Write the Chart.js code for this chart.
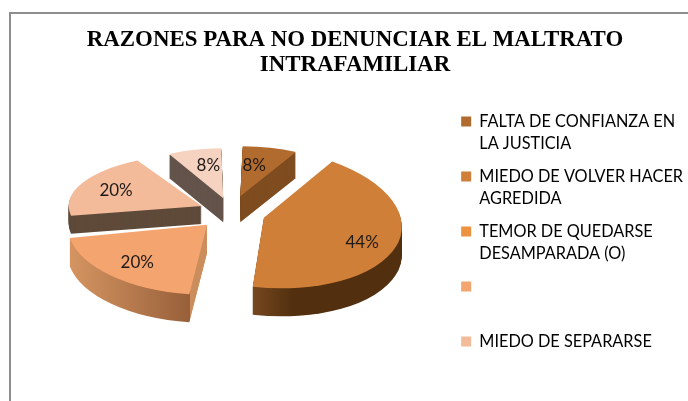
<!DOCTYPE html>
<html><head><meta charset="utf-8">
<style>html,body{margin:0;padding:0;background:#fff}canvas{display:block}</style>
<script src="https://cdn.jsdelivr.net/npm/chart.js@4"></script></head>
<body><canvas id="c" width="688" height="401" style="width:688px;height:401px"></canvas>
<script>
const titleLines = ['RAZONES PARA NO DENUNCIAR EL MALTRATO', 'INTRAFAMILIAR'];
const categories = [
  ['FALTA DE CONFIANZA EN', 'LA JUSTICIA'],
  ['MIEDO DE VOLVER HACER', 'AGREDIDA'],
  ['TEMOR DE QUEDARSE', 'DESAMPARADA (O)'],
  ['', ''],
  'MIEDO DE SEPARARSE',
  ''
];
const values = [8, 44, 0, 20, 20, 8];
const colors = ['#b26b2f', '#cf7f38', '#ed9240', '#f4a46e', '#f4bb9a', '#f6d2c0'];
const explode = [95, 127, 0, 93, 78, 76];

// per-slice projection look: ellipse radii and shear, wall height, nudge, label placement
const view = {
  0: {rx: 120, ry: 50, sx: 0, sy: 0, depth: 26, nx: 5, ny: 0, f: .6, lx: -4, ly: -2, wall: '#7f4c20'},
  1: {rx: 138, ry: 70, sx: 2, sy: 8, depth: 28, nx: -4, ny: 1, f: .72, lx: 4, ly: 11, wall: ['#7d4c22', '#52300f']},
  3: {rx: 140, ry: 70, sx: 0, sy: 0, depth: 28, nx: 5, ny: 3, f: .75, lx: 2, ly: -1, wall: ['#d69662', '#98603a']},
  4: {rx: 133, ry: 52, sx: 0, sy: 0, depth: 18, nx: 1, ny: 3, f: .72, lx: 1, ly: 0, wall: '#5f4a3a'},
  5: {rx: 116, ry: 50, sx: 0, sy: 0, depth: 24, nx: 1, ny: 0, f: .62, lx: 3, ly: -3, wall: '#63534a'}
};
const drawOrder = [5, 0, 4, 1, 3];
const centre = {x: 228, y: 208};

// Chart.js widens an exploded arc by offset/4 scaled with this factor
function fullRadius(arc) {
  const circ = arc.endAngle - arc.startAngle;
  return arc.outerRadius + (arc.options.offset || 0) / 4 * (1 - Math.sin(Math.min(Math.PI, circ)));
}
function place(ctx, arc, v) {
  const R = fullRadius(arc);
  ctx.translate(centre.x + v.nx, centre.y + v.ny);
  ctx.transform(v.rx / R, v.sy / R, v.sx / R, v.ry / R, 0, 0);
  ctx.translate(-arc.x, -arc.y);
}
function drawWith(arc, ctx, fill) {
  const o = arc.options;
  arc.options = Object.create(o, {backgroundColor: {value: fill}, borderWidth: {value: 0}});
  arc.draw(ctx);
  arc.options = o;
}
const pie3d = {
  id: 'pie3d',
  afterLayout(chart) {
    const l = chart.legend;
    l.top += 38; l.bottom += 38; l.left += 5; l.right += 5;
  },
  beforeDraw(chart) {
    const ctx = chart.ctx;
    ctx.save();
    ctx.strokeStyle = '#8e8e8e';
    ctx.lineWidth = 2;
    ctx.beginPath();
    ctx.moveTo(10, 401); ctx.lineTo(10, 13); ctx.lineTo(688, 13);
    ctx.stroke();
    ctx.restore();
  },
  beforeDatasetsDraw(chart) {
    const ctx = chart.ctx, meta = chart.getDatasetMeta(0);
    for (const i of drawOrder) {
      const arc = meta.data[i], v = view[i], R = fullRadius(arc);
      let wall = v.wall;
      if (Array.isArray(wall)) {
        const g = ctx.createLinearGradient(arc.x - (i === 1 ? .15 * R : R), 0, arc.x + (i === 1 ? R : -.125 * R), 0);
        if (i === 1) { g.addColorStop(0, wall[0]); g.addColorStop(.3, wall[1]); g.addColorStop(1, wall[1]); }
        else { g.addColorStop(0, wall[0]); g.addColorStop(.999, wall[1]); g.addColorStop(1, '#cc8d5c'); }
        wall = g;
      }
      for (let d = v.depth; d >= 1; d--) {
        ctx.save();
        ctx.translate(0, d);
        place(ctx, arc, v);
        drawWith(arc, ctx, wall);
        ctx.restore();
      }
      ctx.save();
      place(ctx, arc, v);
      drawWith(arc, ctx, colors[i]);
      ctx.restore();
    }
    return false;
  },
  afterDraw(chart) {
    const ctx = chart.ctx, meta = chart.getDatasetMeta(0);
    ctx.save();
    ctx.font = '17px Lato';
    ctx.fillStyle = '#1f1a17';
    ctx.textAlign = 'center';
    ctx.textBaseline = 'middle';
    meta.data.forEach((arc, i) => {
      if (!values[i]) return;
      const v = view[i], R = fullRadius(arc), mid = (arc.startAngle + arc.endAngle) / 2;
      const off = (arc.options.offset || 0) / 4;
      const x = centre.x + v.nx + v.lx + (v.rx / R) * off * Math.cos(mid) + v.rx * v.f * Math.cos(mid);
      const y = centre.y + v.ny + v.ly + (v.ry / R) * off * Math.sin(mid) + v.ry * v.f * Math.sin(mid);
      ctx.fillText(values[i] + '%', x, y);
    });
    ctx.restore();
  }
};

new Chart(document.getElementById('c'), {
  type: 'pie',
  data: {
    labels: categories,
    datasets: [{data: values, backgroundColor: colors, borderWidth: 0, offset: explode}]
  },
  options: {
    responsive: false,
    animation: false,
    layout: {padding: {left: 22, right: 0, top: 0, bottom: 14}},
    plugins: {
      tooltip: {enabled: false},
      title: {
        display: true,
        text: titleLines,
        color: '#000',
        font: {family: '"Liberation Serif"', size: 22.9, weight: 'bold', lineHeight: 1.09},
        padding: {top: 28, bottom: 12}
      },
      legend: {
        position: 'right',
        align: 'center',
        labels: {
          color: '#333',
          font: {family: 'Lato', size: 16.3, lineHeight: 1.35},
          boxWidth: 10, boxHeight: 10, padding: 11,
          filter: item => item.index < 5,
          generateLabels: chart => categories.map((text, index) => ({
            text, index, fillStyle: colors[index], strokeStyle: colors[index], lineWidth: 0, hidden: false
          }))
        }
      }
    }
  },
  plugins: [pie3d]
});
</script></body></html>
